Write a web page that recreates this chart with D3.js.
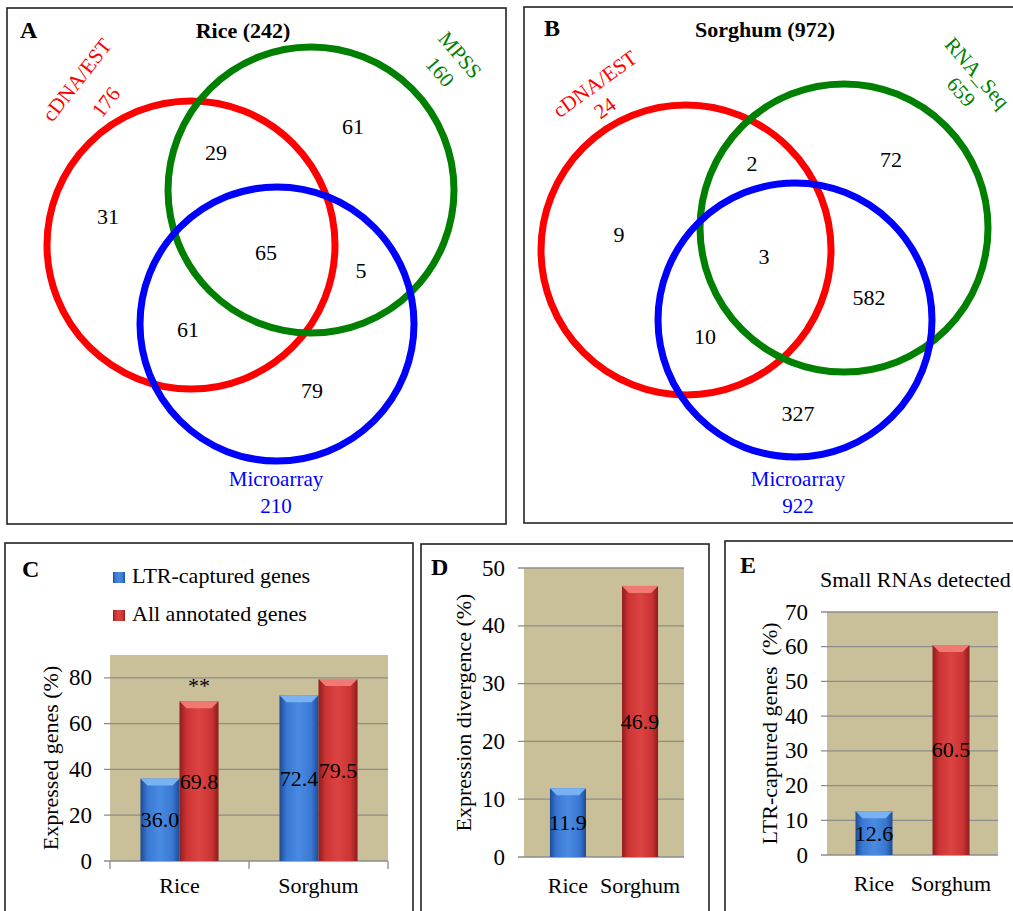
<!DOCTYPE html>
<html>
<head>
<meta charset="UTF-8">
<title>LTR-captured genes expression</title>
<style>
    body { margin: 0; background: #fff; }
    .box { fill: none; stroke: #222; stroke-width: 1.6; }
    .grid { stroke: #8c8c8c; stroke-width: 1.3; }
</style>
</head>
<body>
<script src="https://cdnjs.cloudflare.com/ajax/libs/d3/7.8.5/d3.min.js"></script>
<script>
// ---- data ----
// venn regions: only set 1, 1&2, only 2, 1&2&3, 2&3 only, 1&3 only, only 3
var vennRegions = ["a", "ab", "b", "abc", "bc", "ac", "c"];
var riceSets = ["cDNA/EST", "MPSS", "Microarray"];
var riceSetTotals = [176, 160, 210];
var riceCounts = [31, 29, 61, 65, 5, 61, 79];
var sorghumSets = ["cDNA/EST", "RNA_Seq", "Microarray"];
var sorghumSetTotals = [24, 659, 922];
var sorghumCounts = [9, 2, 72, 3, 582, 10, 327];

var categories = ["Rice", "Sorghum"];
var exprSeries = ["LTR-captured genes", "All annotated genes"];
var exprLTR = [36.0, 72.4];
var exprAll = [69.8, 79.5];
var exprTicks = [0, 20, 40, 60, 80];
var divergence = [11.9, 46.9];
var divTicks = [0, 10, 20, 30, 40, 50];
var smallRNA = [12.6, 60.5];
var srnaTicks = [0, 10, 20, 30, 40, 50, 60, 70];

var W = 1013, H = 911;
var svg = d3.select("body").append("svg")
    .attr("width", W)
    .attr("height", H)
    .attr("font-family", "'Liberation Serif', 'Times New Roman', Times, serif");

// gradients for the bevelled bars
var defs = svg.append("defs");
function grad(id, edge, mid, centre) {
    var g = defs.append("linearGradient").attr("id", id)
        .attr("x1", 0).attr("x2", 1).attr("y1", 0).attr("y2", 0);
    [[0, edge], [0.18, mid], [0.5, centre], [0.82, mid], [1, edge]].forEach(function (s) {
        g.append("stop").attr("offset", s[0]).attr("stop-color", s[1]);
    });
}
grad("blueG", "#1d4a94", "#3978d2", "#4a8be2");
grad("redG", "#8e1c1c", "#cc3434", "#dc4444");
var barStyle = {
    blue: {fill: "url(#blueG)", top: "#79b2f2"},
    red: {fill: "url(#redG)", top: "#f07a72"}
};

// ---- panel frames ----
var frames = [
    [7, 8, 506, 524], [524, 7, 1030, 523],
    [5, 543, 413, 930], [421, 544, 709, 930], [725, 541, 1030, 930]
];
svg.selectAll(".box").data(frames).enter().append("rect")
    .attr("class", "box")
    .attr("x", function (d) { return d[0]; })
    .attr("y", function (d) { return d[1]; })
    .attr("width", function (d) { return d[2] - d[0]; })
    .attr("height", function (d) { return d[3] - d[1]; });

function letter(t, x, y) {
    svg.append("text").attr("x", x).attr("y", y)
        .style("font-size", "24px").style("font-weight", "bold").text(t);
}

// ---- venn panels ----
var vennColors = ["#ff0000", "#008000", "#0000ff"];

function venn(cfg) {
    var g = svg.append("g");
    g.selectAll("circle").data(cfg.circles).enter().append("circle")
        .attr("cx", function (d) { return d[0]; })
        .attr("cy", function (d) { return d[1]; })
        .attr("r", function (d) { return d[2]; })
        .attr("fill", "none")
        .attr("stroke", function (d, i) { return vennColors[i]; })
        .attr("stroke-width", 7);

    g.selectAll(".cnt").data(cfg.counts).enter().append("text")
        .attr("class", "cnt")
        .attr("x", function (d, i) { return cfg.spots[vennRegions[i]][0]; })
        .attr("y", function (d, i) { return cfg.spots[vennRegions[i]][1]; })
        .attr("text-anchor", "middle")
        .attr("dominant-baseline", "central")
        .style("font-size", "22px")
        .text(function (d) { return d; });

    g.append("text").attr("x", cfg.title[0]).attr("y", cfg.title[1])
        .attr("text-anchor", "middle")
        .style("font-size", "22px").style("font-weight", "bold")
        .text(cfg.titleText);

    // rotated labels for set 1 and set 2
    [0, 1].forEach(function (k) {
        var L = cfg.labels[k];
        [cfg.sets[k], cfg.totals[k]].forEach(function (t, j) {
            g.append("text")
                .attr("transform", "translate(" + L[j][0] + "," + L[j][1] + ") rotate(" + L[2] + ")")
                .attr("text-anchor", "middle")
                .attr("dominant-baseline", "central")
                .attr("fill", vennColors[k])
                .style("font-size", "21px")
                .text(t);
        });
    });
    // microarray label below
    [cfg.sets[2], cfg.totals[2]].forEach(function (t, j) {
        g.append("text").attr("x", cfg.bottom[0]).attr("y", cfg.bottom[1] + j * 27)
            .attr("text-anchor", "middle")
            .attr("fill", vennColors[2])
            .style("font-size", "21px")
            .text(t);
    });
}

venn({
    circles: [[191, 245, 144], [311, 190, 143], [277, 324, 137]],
    counts: riceCounts, sets: riceSets, totals: riceSetTotals,
    spots: {a: [108, 216], ab: [216, 152], b: [353, 126], abc: [266, 252],
            bc: [361, 270], ac: [188, 329], c: [312, 390]},
    title: [243, 38], titleText: "Rice (242)",
    labels: [[[77, 80], [106, 102], -52], [[460, 55], [440, 72], 50]],
    bottom: [276, 486]
});
letter("A", 20, 38);

venn({
    circles: [[686, 250, 145], [844, 228, 144], [795, 320, 137]],
    counts: sorghumCounts, sets: sorghumSets, totals: sorghumSetTotals,
    spots: {a: [619, 234], ab: [752, 163], b: [891, 159], abc: [764, 256],
            bc: [869, 297], ac: [705, 336], c: [798, 413]},
    title: [765, 37], titleText: "Sorghum (972)",
    labels: [[[595, 84], [605, 108], -36], [[977, 73], [961, 92], 49]],
    bottom: [798, 486]
});
letter("B", 544, 36);

// ---- bar panels ----
function drawBar(g, x, w, y, v, y0, st) {
    var top = y(v), bot = y(0);
    g.append("rect").attr("x", x).attr("y", top)
        .attr("width", w).attr("height", bot - top)
        .attr("fill", st.fill);
    var b = 7;
    g.append("path")
        .attr("d", "M" + x + "," + top + "H" + (x + w) + "L" + (x + w - b) + "," + (top + b) +
            "H" + (x + b) + "Z")
        .attr("fill", st.top);
}

function barPanel(cfg) {
    var g = svg.append("g");
    var y = d3.scaleLinear().domain(cfg.domain).range([cfg.bottom, cfg.top]);
    var x0 = cfg.left, x1 = cfg.right;

    g.append("rect").attr("x", x0).attr("y", y(cfg.domain[1]))
        .attr("width", x1 - x0).attr("height", y(0) - y(cfg.domain[1]))
        .attr("fill", "#c9c09a");

    g.selectAll(".grid").data(cfg.ticks).enter().append("line")
        .attr("class", "grid")
        .attr("x1", x0 - 6).attr("x2", x1)
        .attr("y1", function (d) { return y(d); })
        .attr("y2", function (d) { return y(d); });

    g.selectAll(".tl").data(cfg.ticks).enter().append("text")
        .attr("x", x0 - cfg.tickGap).attr("y", function (d) { return y(d); })
        .attr("text-anchor", "end").attr("dominant-baseline", "central")
        .style("font-size", "23px")
        .text(function (d) { return d; });

    g.append("text")
        .attr("transform", "translate(" + cfg.yLabelX + "," + (y(0) + y(cfg.domain[1])) / 2 + ") rotate(-90)")
        .attr("text-anchor", "middle").attr("dominant-baseline", "central")
        .style("font-size", "22px").style("white-space", "pre")
        .text(cfg.yLabel);

    var xb = d3.scaleBand().domain(categories).range([x0, x1])
        .paddingInner(cfg.padIn).paddingOuter(cfg.padOut);

    cfg.series.forEach(function (s, si) {
        var xs = cfg.sub ? cfg.sub : null;
        s.values.forEach(function (v, ci) {
            var bx, bw;
            if (xs) {
                bx = xb(categories[ci]) + xs(exprSeries[si]);
                bw = xs.bandwidth();
            } else {
                bx = xb(categories[ci]);
                bw = xb.bandwidth();
            }
            if (v == null) return;
            drawBar(g, bx, bw, y, v, y(0), barStyle[s.color]);
            g.append("text").attr("x", bx + bw / 2).attr("y", (y(v) + y(0)) / 2)
                .attr("text-anchor", "middle").attr("dominant-baseline", "central")
                .style("font-size", "22px")
                .text(v.toFixed(1));
        });
    });

    g.selectAll(".cat").data(categories).enter().append("text")
        .attr("x", function (d) { return xb(d) + xb.bandwidth() / 2; })
        .attr("y", cfg.catY)
        .attr("text-anchor", "middle")
        .style("font-size", "22px")
        .text(function (d) { return d; });

    return {g: g, y: y, xb: xb};
}

// C: expressed genes
var xC = d3.scaleBand().domain(categories).range([110, 388]);
var subC = d3.scaleBand().domain(exprSeries).range([0, xC.bandwidth()])
    .paddingInner(0).paddingOuter(0.78);
var pC = barPanel({
    left: 110, right: 388, top: 655, bottom: 861, domain: [0, 90],
    ticks: exprTicks, tickGap: 18, yLabel: "Expressed genes (%)", yLabelX: 50,
    padIn: 0, padOut: 0, sub: subC, catY: 893,
    series: [{values: exprLTR, color: "blue"}, {values: exprAll, color: "red"}]
});
// category boundary ticks on C
var cBounds = categories.map(function (c) { return pC.xb(c); }).concat([pC.xb.range()[1]]);
pC.g.selectAll(".ct").data(cBounds).enter().append("line")
    .attr("x1", function (d) { return d; }).attr("x2", function (d) { return d; })
    .attr("y1", pC.y(0)).attr("y2", pC.y(0) + 8)
    .attr("stroke", "#8c8c8c").attr("stroke-width", 1.3);
// significance mark
pC.g.append("text")
    .attr("x", pC.xb("Rice") + subC(exprSeries[1]) + subC.bandwidth() / 2)
    .attr("y", pC.y(exprAll[0]) - 8)
    .attr("text-anchor", "middle")
    .style("font-size", "22px")
    .text("**");
// legend
exprSeries.forEach(function (s, i) {
    var ly = 583 + i * 38;
    svg.append("rect").attr("x", 113).attr("y", ly - 11).attr("width", 12).attr("height", 11)
        .attr("fill", i === 0 ? "url(#blueG)" : "url(#redG)");
    svg.append("text").attr("x", 132).attr("y", ly)
        .style("font-size", "22px").text(s);
});
letter("C", 22, 577);

// D: expression divergence
barPanel({
    left: 524, right: 684, top: 568, bottom: 857, domain: [0, 50],
    ticks: divTicks, tickGap: 19, yLabel: "Expression divergence (%)", yLabelX: 463,
    padIn: 0.5, padOut: 0.36, catY: 893,
    series: [{values: [divergence[0], null], color: "blue"},
             {values: [null, divergence[1]], color: "red"}]
});
letter("D", 431, 575);

// E: small RNAs
barPanel({
    left: 827, right: 998, top: 612, bottom: 855, domain: [0, 70],
    ticks: srnaTicks, tickGap: 19, yLabel: "LTR-captured genes  (%)", yLabelX: 769,
    padIn: 0.52, padOut: 0.37, catY: 891,
    series: [{values: [smallRNA[0], null], color: "blue"},
             {values: [null, smallRNA[1]], color: "red"}]
});
svg.append("text").attr("x", 820).attr("y", 587)
    .style("font-size", "22px").text("Small RNAs detected");
letter("E", 740, 573);
</script>
</body>
</html>
